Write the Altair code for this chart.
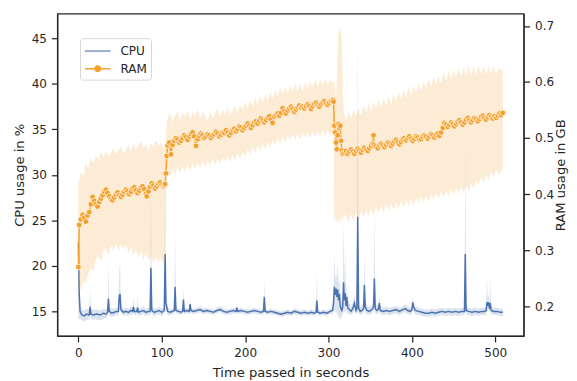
import altair as alt
import pandas as pd

# ---------------- CPU (seconds, mean %, band low, band high) ----------------
cpu_t = [0, 1, 2, 4, 7, 10, 13, 14, 15, 18,
         22, 26, 30, 33, 35, 36, 37, 40, 43, 46,
         48, 49, 50, 51, 54, 57, 60, 63, 65, 66,
         67, 70, 71, 72, 75, 78, 81, 84, 86, 87,
         88, 91, 94, 97, 100, 103, 104, 105, 106, 107,
         110, 113, 115, 116, 117, 120, 123, 125, 126, 127,
         130, 133, 134, 135, 138, 142, 146, 150, 154, 158,
         162, 166, 170, 174, 178, 182, 186, 189, 190, 191,
         195, 199, 203, 207, 211, 215, 219, 222, 223, 224,
         227, 231, 235, 239, 243, 247, 251, 255, 259, 263,
         267, 271, 275, 279, 283, 285, 286, 287, 290, 294,
         298, 302, 305, 306, 307, 308, 309, 310, 311, 312,
         313, 314, 315, 316, 317, 318, 319, 320, 321, 322,
         323, 325, 327, 329, 331, 333, 334, 335, 336, 338,
         340, 342, 343, 344, 346, 349, 352, 354, 355, 356,
         358, 360, 361, 362, 365, 369, 373, 377, 381, 385,
         389, 392, 395, 398, 400, 401, 402, 404, 408, 412,
         416, 420, 424, 428, 432, 436, 440, 444, 448, 452,
         456, 460, 463, 464, 465, 468, 472, 476, 480, 484,
         487, 489, 490, 491, 492, 493, 494, 495, 498, 502,
         506, 509]
cpu_mean = [22.6, 16.9, 15.0, 14.6, 14.5, 14.7, 14.6, 15.5, 14.7, 14.6,
            14.7, 14.6, 14.8, 14.7, 14.9, 16.4, 15.0, 14.8, 14.9, 15.0,
            15.0, 16.7, 16.9, 15.2, 14.9, 15.0, 14.9, 15.1, 15.0, 15.5,
            15.0, 15.0, 15.4, 14.9, 15.0, 15.1, 14.9, 15.0, 15.0, 19.8,
            15.1, 14.9, 15.0, 15.1, 14.9, 15.1, 21.3, 15.9, 15.5, 15.0,
            14.9, 15.0, 15.1, 17.7, 15.1, 15.0, 14.9, 15.0, 16.3, 15.0,
            15.1, 15.0, 15.8, 15.1, 15.0, 15.1, 15.2, 15.0, 15.1, 15.0,
            14.9, 15.1, 15.2, 15.0, 14.9, 15.0, 15.1, 15.0, 15.4, 15.0,
            15.1, 15.0, 14.9, 15.0, 15.1, 15.0, 14.9, 15.0, 16.6, 15.0,
            14.9, 15.0, 14.9, 14.8, 14.7, 14.8, 14.9, 14.8, 15.0, 14.9,
            14.8, 14.9, 14.8, 14.9, 14.8, 14.9, 16.2, 14.9, 14.8, 14.9,
            14.8, 15.0, 15.1, 16.0, 17.7, 16.8, 17.5, 16.6, 17.4, 16.2,
            16.9, 15.6, 15.3, 15.1, 15.5, 18.2, 16.2, 17.0, 15.6, 16.6,
            15.4, 15.2, 15.0, 15.3, 15.9, 15.1, 15.3, 25.4, 15.4, 15.0,
            15.1, 15.3, 17.9, 15.5, 15.1, 15.0, 15.2, 15.5, 18.6, 15.3,
            15.1, 15.3, 15.9, 15.1, 15.0, 15.1, 15.0, 15.1, 15.2, 15.0,
            15.2, 15.3, 15.1, 15.0, 15.2, 16.0, 15.5, 15.1, 15.0, 14.9,
            14.8, 14.8, 14.9, 14.8, 14.9, 15.0, 14.9, 15.0, 14.9, 15.0,
            14.9, 15.0, 15.0, 21.3, 15.1, 15.0, 14.9, 15.0, 14.9, 15.0,
            15.0, 15.1, 16.0, 15.6, 16.0, 15.3, 15.9, 15.1, 15.0, 15.0,
            14.9, 14.9]
cpu_lo = [13.8, 14.2, 14.2, 14.0, 13.9, 14.1, 14.0, 14.8, 14.1, 14.1,
          14.1, 14.0, 14.2, 14.2, 14.4, 15.0, 14.5, 14.4, 14.5, 14.6,
          14.6, 15.2, 15.2, 14.8, 14.5, 14.6, 14.5, 14.7, 14.6, 15.0,
          14.6, 14.6, 14.9, 14.5, 14.6, 14.7, 14.5, 14.6, 14.6, 15.2,
          14.7, 14.5, 14.6, 14.7, 14.5, 14.7, 15.3, 15.0, 15.0, 14.6,
          14.6, 14.7, 14.8, 15.2, 14.8, 14.7, 14.6, 14.7, 15.2, 14.7,
          14.8, 14.7, 15.2, 14.8, 14.7, 14.8, 14.9, 14.7, 14.8, 14.7,
          14.6, 14.8, 14.9, 14.7, 14.6, 14.7, 14.8, 14.7, 15.0, 14.7,
          14.8, 14.7, 14.6, 14.7, 14.8, 14.7, 14.6, 14.7, 15.2, 14.7,
          14.6, 14.7, 14.6, 14.5, 14.4, 14.5, 14.6, 14.5, 14.7, 14.6,
          14.5, 14.6, 14.5, 14.6, 14.5, 14.6, 15.0, 14.6, 14.5, 14.6,
          14.5, 14.7, 14.7, 15.0, 15.2, 14.8, 15.3, 14.5, 15.0, 14.2,
          14.6, 14.0, 14.3, 14.4, 14.8, 15.2, 14.8, 15.2, 14.8, 15.0,
          14.8, 14.7, 14.6, 14.8, 15.1, 14.7, 14.8, 15.0, 14.8, 14.6,
          14.7, 14.8, 15.2, 14.9, 14.7, 14.6, 14.8, 15.0, 15.3, 14.8,
          14.7, 14.8, 15.1, 14.7, 14.6, 14.7, 14.6, 14.7, 14.8, 14.6,
          14.8, 14.9, 14.7, 14.6, 14.8, 15.2, 15.0, 14.7, 14.6, 14.5,
          14.4, 14.4, 14.5, 14.4, 14.5, 14.6, 14.5, 14.6, 14.5, 14.6,
          14.5, 14.6, 14.6, 15.2, 14.7, 14.6, 14.5, 14.6, 14.5, 14.6,
          14.6, 14.7, 15.2, 15.0, 15.2, 14.9, 15.2, 14.7, 14.6, 14.6,
          14.5, 14.5]
cpu_hi = [24.0, 19.5, 15.9, 15.2, 15.1, 15.3, 15.2, 17.5, 15.3, 15.2,
          15.2, 15.1, 15.3, 15.2, 15.4, 20.2, 15.6, 15.3, 15.3, 15.4,
          15.5, 19.5, 20.4, 15.7, 15.3, 15.4, 15.3, 15.5, 15.4, 16.6,
          15.4, 15.4, 16.6, 15.3, 15.4, 15.5, 15.3, 15.4, 15.4, 28.3,
          15.6, 15.3, 15.4, 15.5, 15.3, 15.5, 28.7, 17.0, 16.5, 15.4,
          15.3, 15.3, 15.4, 23.5, 15.5, 15.3, 15.2, 15.3, 17.8, 15.3,
          15.4, 15.3, 16.4, 15.4, 15.3, 15.4, 15.5, 15.3, 15.4, 15.3,
          15.2, 15.4, 15.6, 15.3, 15.2, 15.3, 15.4, 15.3, 16.0, 15.3,
          15.4, 15.3, 15.2, 15.3, 15.4, 15.3, 15.2, 15.3, 18.5, 15.3,
          15.2, 15.3, 15.2, 15.1, 15.0, 15.1, 15.2, 15.1, 15.3, 15.2,
          15.1, 15.2, 15.1, 15.2, 15.1, 15.2, 19.1, 15.2, 15.1, 15.2,
          15.1, 15.3, 15.5, 17.0, 21.5, 18.5, 19.3, 18.5, 20.5, 18.0,
          18.8, 17.2, 16.5, 16.0, 16.5, 25.0, 17.6, 22.4, 16.6, 18.0,
          16.2, 15.8, 15.5, 15.9, 16.8, 15.6, 15.9, 46.2, 16.2, 15.5,
          15.6, 15.9, 21.6, 16.3, 15.6, 15.5, 15.7, 16.2, 26.0, 16.0,
          15.6, 15.9, 16.8, 15.6, 15.4, 15.5, 15.4, 15.5, 15.6, 15.4,
          15.6, 15.8, 15.5, 15.4, 15.6, 16.6, 16.1, 15.5, 15.4, 15.3,
          15.2, 15.2, 15.3, 15.2, 15.3, 15.4, 15.3, 15.4, 15.3, 15.4,
          15.3, 15.4, 15.4, 33.7, 15.6, 15.4, 15.3, 15.4, 15.3, 15.4,
          15.4, 15.5, 18.7, 16.4, 16.8, 15.9, 18.7, 15.6, 15.4, 15.4,
          15.3, 15.3]

# ---------------- RAM mean (seconds, GB) ----------------
ram_t = [0, 1, 3, 5, 7, 9, 11, 13, 15, 17,
         19, 21, 23, 25, 27, 29, 31, 33, 35, 37,
         39, 41, 43, 45, 47, 49, 51, 53, 55, 57,
         59, 61, 63, 65, 67, 69, 71, 73, 75, 77,
         79, 81, 82, 84, 86, 88, 90, 92, 94, 96,
         98, 100, 102, 103, 104, 105, 106, 107, 109, 111,
         113, 115, 117, 119, 121, 123, 125, 127, 129, 131,
         133, 135, 137, 139, 141, 143, 145, 147, 149, 151,
         153, 155, 157, 159, 161, 163, 165, 167, 169, 171,
         173, 175, 177, 179, 181, 183, 185, 187, 189, 191,
         193, 195, 197, 199, 201, 203, 205, 207, 209, 211,
         213, 215, 217, 219, 221, 223, 225, 227, 229, 231,
         233, 235, 237, 239, 241, 243, 245, 247, 249, 251,
         253, 255, 257, 259, 261, 263, 265, 267, 269, 271,
         273, 275, 277, 279, 281, 283, 285, 287, 289, 291,
         293, 295, 297, 299, 301, 303, 305, 306, 307, 308,
         309, 310, 311, 312, 313, 314, 315, 316, 317, 319,
         321, 323, 325, 327, 329, 331, 333, 335, 337, 339,
         341, 343, 345, 347, 349, 351, 353, 354, 355, 357,
         359, 361, 363, 365, 367, 369, 371, 373, 375, 377,
         379, 381, 383, 385, 387, 389, 391, 393, 395, 397,
         399, 401, 403, 405, 407, 409, 411, 413, 415, 417,
         419, 421, 423, 425, 427, 429, 431, 433, 435, 437,
         439, 441, 443, 445, 447, 449, 451, 453, 455, 457,
         459, 461, 463, 465, 467, 469, 471, 473, 475, 477,
         479, 481, 483, 485, 487, 489, 491, 493, 495, 497,
         499, 501, 503, 505, 507, 509]
ram_gb = [0.270, 0.345, 0.355, 0.363, 0.358, 0.351, 0.362, 0.368, 0.382, 0.395,
          0.388, 0.382, 0.378, 0.386, 0.392, 0.398, 0.404, 0.408, 0.402, 0.396,
          0.391, 0.389, 0.394, 0.399, 0.403, 0.398, 0.395, 0.399, 0.404, 0.408,
          0.405, 0.400, 0.404, 0.410, 0.412, 0.407, 0.402, 0.406, 0.411, 0.414,
          0.409, 0.401, 0.396, 0.405, 0.413, 0.419, 0.415, 0.410, 0.414, 0.418,
          0.421, 0.417, 0.414, 0.416, 0.418, 0.437, 0.468, 0.487, 0.492, 0.471,
          0.488, 0.495, 0.500, 0.497, 0.492, 0.495, 0.500, 0.505, 0.502, 0.497,
          0.503, 0.507, 0.510, 0.503, 0.486, 0.498, 0.504, 0.508, 0.505, 0.500,
          0.503, 0.507, 0.505, 0.500, 0.504, 0.507, 0.511, 0.508, 0.503, 0.506,
          0.510, 0.509, 0.514, 0.510, 0.505, 0.509, 0.514, 0.517, 0.512, 0.516,
          0.521, 0.519, 0.514, 0.518, 0.522, 0.526, 0.522, 0.518, 0.523, 0.528,
          0.530, 0.526, 0.531, 0.535, 0.532, 0.528, 0.532, 0.536, 0.539, 0.533,
          0.527, 0.538, 0.541, 0.544, 0.540, 0.545, 0.553, 0.548, 0.544, 0.549,
          0.553, 0.556, 0.552, 0.547, 0.551, 0.555, 0.558, 0.554, 0.556, 0.553,
          0.557, 0.560, 0.557, 0.552, 0.557, 0.561, 0.563, 0.559, 0.556, 0.560,
          0.563, 0.566, 0.562, 0.559, 0.563, 0.566, 0.568, 0.565, 0.522, 0.510,
          0.492, 0.480, 0.505, 0.525, 0.518, 0.522, 0.495, 0.478, 0.472, 0.474,
          0.477, 0.472, 0.476, 0.480, 0.476, 0.472, 0.477, 0.481, 0.478, 0.474,
          0.479, 0.483, 0.480, 0.477, 0.482, 0.486, 0.490, 0.505, 0.488, 0.485,
          0.482, 0.487, 0.490, 0.487, 0.484, 0.488, 0.492, 0.490, 0.486, 0.490,
          0.494, 0.497, 0.493, 0.489, 0.493, 0.497, 0.500, 0.496, 0.500, 0.503,
          0.499, 0.495, 0.499, 0.503, 0.501, 0.497, 0.498, 0.502, 0.505, 0.503,
          0.499, 0.503, 0.507, 0.505, 0.501, 0.505, 0.508, 0.504, 0.510, 0.518,
          0.527, 0.524, 0.520, 0.524, 0.528, 0.525, 0.521, 0.525, 0.529, 0.532,
          0.528, 0.524, 0.528, 0.533, 0.536, 0.532, 0.528, 0.532, 0.536, 0.534,
          0.530, 0.534, 0.538, 0.540, 0.536, 0.533, 0.537, 0.541, 0.538, 0.535,
          0.539, 0.536, 0.540, 0.544, 0.541, 0.545]

# ---------------- RAM confidence band (seconds, GB low, GB high) ----------------
ram_band_t = (list(range(0, 103, 3)) + [104] + [105, 106]
              + list(range(107, 306, 3)) + list(range(306, 319))
              + list(range(321, 508, 3)) + [509])
ram_band_hi = [
    0.420, 0.440, 0.430, 0.455, 0.445, 0.465, 0.455, 0.470, 0.460, 0.475,
    0.465, 0.478, 0.468, 0.472, 0.482, 0.470, 0.478, 0.485, 0.472, 0.480,
    0.488, 0.475, 0.490, 0.480, 0.486, 0.495, 0.482, 0.490, 0.478, 0.492,
    0.483, 0.497, 0.486, 0.492, 0.482, 0.490,
    0.500, 0.530,
    0.535, 0.545, 0.528, 0.540, 0.548, 0.532, 0.545, 0.538, 0.550, 0.532,
    0.546, 0.538, 0.552, 0.535, 0.548, 0.540, 0.530, 0.548, 0.535, 0.545,
    0.552, 0.538, 0.550, 0.542, 0.555, 0.540, 0.550, 0.558, 0.545, 0.560,
    0.550, 0.565, 0.553, 0.568, 0.556, 0.572, 0.560, 0.575, 0.562, 0.578,
    0.566, 0.582, 0.570, 0.586, 0.574, 0.590, 0.578, 0.592, 0.580, 0.595,
    0.583, 0.598, 0.585, 0.596, 0.584, 0.600, 0.588, 0.602, 0.590, 0.604,
    0.592, 0.605, 0.594, 0.606, 0.596, 0.603, 0.598,
    0.600, 0.600, 0.580, 0.570, 0.600, 0.660, 0.695, 0.690, 0.697, 0.685,
    0.670, 0.600, 0.550,
    0.530, 0.548, 0.535, 0.552, 0.538, 0.555, 0.540, 0.558, 0.545, 0.562,
    0.548, 0.565, 0.552, 0.568, 0.555, 0.570, 0.558, 0.574, 0.560, 0.578,
    0.565, 0.582, 0.568, 0.585, 0.572, 0.590, 0.576, 0.594, 0.580, 0.598,
    0.584, 0.602, 0.588, 0.606, 0.590, 0.610, 0.595, 0.612, 0.598, 0.618,
    0.602, 0.620, 0.605, 0.622, 0.608, 0.625, 0.610, 0.626, 0.611, 0.628,
    0.612, 0.628, 0.613, 0.630, 0.614, 0.628, 0.612, 0.630, 0.615, 0.628,
    0.613, 0.626, 0.620, 0.622]
ram_band_lo = [
    0.225, 0.230, 0.245, 0.240, 0.258, 0.268, 0.262, 0.285, 0.290, 0.280,
    0.298, 0.305, 0.290, 0.310, 0.300, 0.312, 0.298, 0.310, 0.302, 0.310,
    0.295, 0.305, 0.292, 0.300, 0.287, 0.297, 0.284, 0.294, 0.283, 0.290,
    0.278, 0.288, 0.280, 0.286, 0.275, 0.280,
    0.390, 0.430,
    0.440, 0.432, 0.445, 0.435, 0.448, 0.438, 0.450, 0.440, 0.452, 0.442,
    0.455, 0.443, 0.457, 0.446, 0.458, 0.448, 0.460, 0.450, 0.462, 0.452,
    0.463, 0.455, 0.466, 0.457, 0.468, 0.458, 0.470, 0.460, 0.472, 0.463,
    0.476, 0.467, 0.480, 0.470, 0.484, 0.474, 0.487, 0.478, 0.490, 0.480,
    0.494, 0.484, 0.497, 0.487, 0.500, 0.490, 0.503, 0.493, 0.505, 0.495,
    0.507, 0.497, 0.508, 0.498, 0.510, 0.500, 0.511, 0.501, 0.512, 0.502,
    0.513, 0.503, 0.514, 0.504, 0.515, 0.505, 0.512,
    0.500, 0.350, 0.360, 0.350, 0.355, 0.350, 0.360, 0.345, 0.355, 0.350,
    0.360, 0.352, 0.360,
    0.362, 0.350, 0.365, 0.352, 0.368, 0.355, 0.370, 0.358, 0.372, 0.360,
    0.375, 0.362, 0.377, 0.365, 0.380, 0.367, 0.382, 0.370, 0.384, 0.372,
    0.386, 0.374, 0.388, 0.376, 0.390, 0.378, 0.392, 0.380, 0.394, 0.382,
    0.396, 0.385, 0.398, 0.387, 0.400, 0.390, 0.402, 0.392, 0.405, 0.394,
    0.407, 0.396, 0.410, 0.398, 0.412, 0.400, 0.414, 0.403, 0.417, 0.405,
    0.420, 0.410, 0.425, 0.415, 0.430, 0.420, 0.435, 0.425, 0.440, 0.430,
    0.445, 0.435, 0.440, 0.445]

x_ticks = [0, 100, 200, 300, 400, 500]
cpu_ticks = [15, 20, 25, 30, 35, 40, 45]
ram_ticks = [0.2, 0.3, 0.4, 0.5, 0.6, 0.7]
series_names = ["CPU", "RAM"]

CPU_COLOR = "#4c72b0"
CPU_LEGEND = "#7895c8"
RAM_COLOR = "#f4a02b"
INK = "#262626"

cpu_df = pd.DataFrame({"t": cpu_t, "mean": cpu_mean, "lo": cpu_lo, "hi": cpu_hi})
ram_df = pd.DataFrame({"t": ram_t, "ram": ram_gb})
band_df = pd.DataFrame({"t": ram_band_t, "lo": ram_band_lo, "hi": ram_band_hi})
legend_df = pd.DataFrame({"series": series_names})

x_enc = alt.X("t:Q", scale=alt.Scale(domain=[-25.3, 534.0], nice=False, zero=False),
              axis=alt.Axis(values=x_ticks, title="Time passed in seconds",
                            labelFlush=False, titlePadding=7))
cpu_scale = alt.Scale(domain=[12.3, 47.7], nice=False, zero=False)
cpu_axis = alt.Axis(values=cpu_ticks, title="CPU usage in %", orient="left")
ram_scale = alt.Scale(domain=[0.147, 0.722], nice=False, zero=False)
ram_axis = alt.Axis(values=ram_ticks, title="RAM usage in GB", orient="right",
                    format=".1f", titleAngle=270, titleBaseline="top", titlePadding=0)

cpu_band = alt.Chart(cpu_df).mark_area(color=CPU_COLOR, opacity=0.2).encode(
    x=x_enc, y=alt.Y("lo:Q", scale=cpu_scale, axis=cpu_axis), y2="hi:Q")
cpu_line = alt.Chart(cpu_df).mark_line(color=CPU_COLOR, strokeWidth=1.5).encode(
    x=x_enc, y=alt.Y("mean:Q", scale=cpu_scale, axis=cpu_axis))

ram_band = alt.Chart(band_df).mark_area(color=RAM_COLOR, opacity=0.2).encode(
    x=x_enc, y=alt.Y("lo:Q", scale=ram_scale, axis=ram_axis), y2="hi:Q")
ram_line = alt.Chart(ram_df).mark_line(
    color=RAM_COLOR, strokeWidth=1.5,
    point=alt.OverlayMarkDef(filled=True, fill=RAM_COLOR, stroke="white",
                             strokeWidth=0.7, size=34, opacity=1)
).encode(x=x_enc, y=alt.Y("ram:Q", scale=ram_scale, axis=ram_axis))

line_path = "M-1,-0.094L2.25,-0.094L2.25,0.094L-1,0.094Z"
dot_path = line_path + "M1.0625,0A0.4375,0.4375,0,1,1,0.1875,0A0.4375,0.4375,0,1,1,1.0625,0Z"
leg = dict(title=None, orient="none", legendX=23, legendY=25, padding=4,
           fillColor="white", strokeColor="#d6d6d6", cornerRadius=3,
           symbolSize=256, labelOffset=19, rowPadding=2, labelFontSize=12.2,
           labelFont="DejaVu Sans", labelColor=INK)
legend_layer = alt.Chart(legend_df).mark_point(filled=True, opacity=1).encode(
    color=alt.Color("series:N", scale=alt.Scale(domain=series_names, range=[CPU_LEGEND, RAM_COLOR]),
                    legend=alt.Legend(**leg)),
    shape=alt.Shape("series:N", scale=alt.Scale(domain=series_names, range=[line_path, dot_path]),
                    legend=alt.Legend(**leg)),
).transform_filter("false")

chart = alt.layer(
    alt.layer(cpu_band, cpu_line),
    alt.layer(ram_band, ram_line),
    legend_layer,
).resolve_scale(y="independent").properties(
    width=473, height=327,
    padding={"left": 50, "top": 3, "right": 46, "bottom": 43},
    autosize=alt.AutoSizeParams(type="none"),
).configure_view(stroke=INK, strokeWidth=1.25).configure_axis(
    labelFont="DejaVu Sans", labelFontSize=12.2, labelColor=INK,
    titleFont="DejaVu Sans", titleFontSize=13.3, titleFontWeight="normal", titleColor=INK,
    domainColor=INK, domainWidth=1.25, tickColor=INK, tickWidth=1.25, tickSize=6,
    labelPadding=5, titlePadding=5, grid=False,
)

chart.save("out.html", embed_options={"renderer": "svg", "actions": False})
